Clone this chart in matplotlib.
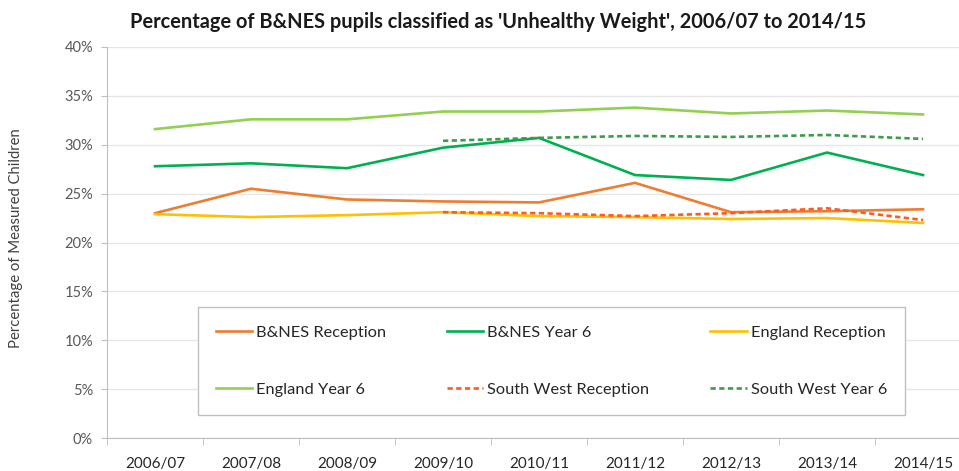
import matplotlib.pyplot as plt
import numpy as np
from matplotlib.ticker import FuncFormatter, FixedLocator

years = ['2006/07', '2007/08', '2008/09', '2009/10', '2010/11',
         '2011/12', '2012/13', '2013/14', '2014/15']

bnes_reception = [23.0, 25.5, 24.4, 24.2, 24.1, 26.1, 23.1, 23.2, 23.4]
bnes_year6 = [27.8, 28.1, 27.6, 29.7, 30.7, 26.9, 26.4, 29.2, 26.9]
england_reception = [22.9, 22.6, 22.8, 23.1, 22.7, 22.6, 22.4, 22.5, 22.0]
england_year6 = [31.6, 32.6, 32.6, 33.4, 33.4, 33.8, 33.2, 33.5, 33.1]
# South West series only start in 2009/10
sw_reception = [None, None, None, 23.1, 23.0, 22.7, 23.0, 23.5, 22.3]
sw_year6 = [None, None, None, 30.4, 30.7, 30.9, 30.8, 31.0, 30.6]

plt.rcParams['font.family'] = ['Lato', 'DejaVu Sans']

fig = plt.figure(figsize=(9.59, 4.71), dpi=100)
# plot area runs past the right edge, as in the cropped original
ax = fig.add_axes([107 / 959, 33 / 471, 852 / 959, 391 / 471])

x = np.arange(len(years))


def arr(vals):
    return np.array([np.nan if v is None else v for v in vals], dtype=float)


l1, = ax.plot(x, arr(bnes_reception), color='#ED7D31', lw=1.9, label='B&NES Reception')
l2, = ax.plot(x, arr(bnes_year6), color='#00B050', lw=1.9, label='B&NES Year 6')
l3, = ax.plot(x, arr(england_reception), color='#FFC000', lw=1.9, label='England Reception')
l4, = ax.plot(x, arr(england_year6), color='#92D050', lw=1.9, label='England Year 6')
l5, = ax.plot(x, arr(sw_reception), color='#FF5A1F', lw=1.9, ls=(0, (2, 1.3)),
              label='South West Reception')
l6, = ax.plot(x, arr(sw_year6), color='#3F9B4C', lw=1.9, ls=(0, (2, 1.3)),
              label='South West Year 6')

ax.set_xlim(-0.5, 8.375)
ax.set_ylim(0, 40)
ax.set_yticks(np.arange(0, 41, 5))
ax.yaxis.set_major_formatter(FuncFormatter(lambda v, p: f'{v:.0f}%'))
ax.set_xticks(x)
ax.set_xticklabels(years)
ax.xaxis.set_minor_locator(FixedLocator(np.arange(-0.5, 9, 1)))
ax.tick_params(axis='x', which='major', length=0, pad=14, labelsize=11, colors='#262626')
ax.tick_params(axis='x', which='minor', length=5, color='#BFBFBF')
ax.tick_params(axis='y', length=4, color='#BFBFBF', labelsize=10.5, labelcolor='#595959', pad=6)

ax.grid(axis='y', color='#E6E6E6', lw=1)
ax.set_axisbelow(True)
for s in ['top', 'right']:
    ax.spines[s].set_visible(False)
ax.spines['left'].set_color('#BFBFBF')
ax.spines['bottom'].set_color('#BFBFBF')

fig.text(16 / 959, 1 - 238 / 471, 'Percentage of Measured Children', rotation=90,
         ha='center', va='center', fontsize=10.7, color='#404040')
fig.text(498 / 959, 1 - 22 / 471,
         "Percentage of B&NES pupils classified as 'Unhealthy Weight', 2006/07 to 2014/15",
         ha='center', va='center', fontsize=14.4, fontweight='bold', color='#1a1a1a')

# column-major order so the legend reads row by row
handles = [l1, l4, l2, l5, l3, l6]
leg = ax.legend(handles=handles, labels=[h.get_label() for h in handles],
                ncol=3, loc='lower left', mode='expand',
                bbox_to_anchor=(198 / 959, 56 / 471, 707 / 959, 110 / 471),
                bbox_transform=fig.transFigure, borderaxespad=0,
                fontsize=11.8, handlelength=2.2, handletextpad=0.25,
                labelspacing=2.6, borderpad=1.1, fancybox=False, framealpha=1)
leg.get_frame().set_edgecolor('#BFBFBF')
leg.get_frame().set_linewidth(1)
for t in leg.get_texts():
    t.set_color('#262626')

fig.savefig('out.png', dpi=100)
